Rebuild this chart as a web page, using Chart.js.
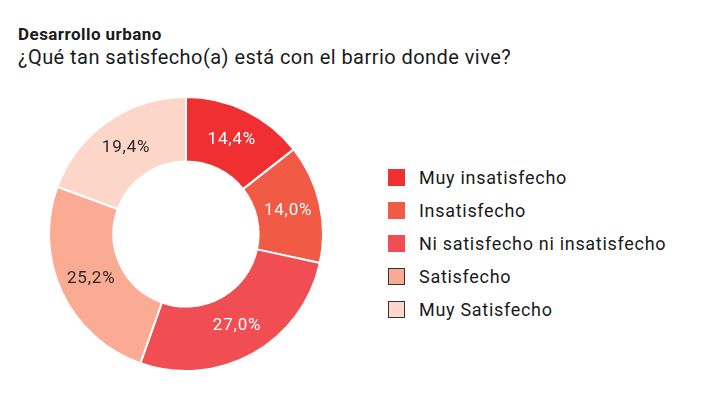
<!DOCTYPE html>
<html><head><meta charset="utf-8">
<script src="https://cdn.jsdelivr.net/npm/chart.js@4"></script>
<style>
body{margin:0;width:720px;height:405px;background:#fff;font-family:Roboto,"Noto Sans",sans-serif;color:#1a1a1a;position:relative;overflow:hidden}
#t1{position:absolute;left:18px;top:24px;font-size:17px;font-weight:700;letter-spacing:0.45px}
#t2{position:absolute;left:18px;top:45px;font-size:20px;letter-spacing:0.45px}
#cw{position:absolute;left:48px;top:96px;width:276px;height:276px}
#lg{position:absolute;left:388px;top:161px}
.it{display:flex;align-items:center;height:33px;font-size:18px;letter-spacing:0.7px}
.bx{width:17px;height:17px;box-sizing:border-box;margin-right:14px}
</style></head><body>
<div id="t1">Desarrollo urbano</div>
<div id="t2">¿Qué tan satisfecho(a) está con el barrio donde vive?</div>
<div id="cw"><canvas id="c"></canvas></div>
<div id="lg"></div>
<script>
const categories=["Muy insatisfecho","Insatisfecho","Ni satisfecho ni insatisfecho","Satisfecho","Muy Satisfecho"];
const values=[14.4,14.0,27.0,25.2,19.4];
const colors=["#EF2F31","#F15A44","#F04E53","#FBAA93","#FDD6CA"];
const labelColors=["#fff","#fff","#fff","#2a2a2a","#2a2a2a"];
const boxBorders=["none","none","none","1px solid #333","1px solid #333"];

const lg=document.getElementById('lg');
categories.forEach((c,i)=>{const d=document.createElement('div');d.className='it';
d.innerHTML='<div class="bx" style="background:'+colors[i]+';border:'+boxBorders[i]+'"></div><span>'+c+'</span>';lg.appendChild(d);});

const pctPlugin={id:'pct',afterDatasetsDraw(chart){const ctx=chart.ctx;const meta=chart.getDatasetMeta(0);
ctx.save();ctx.font='17px Roboto, sans-serif';ctx.letterSpacing='0.8px';ctx.textAlign='center';ctx.textBaseline='middle';
meta.data.forEach((arc,i)=>{const p=arc.tooltipPosition();ctx.fillStyle=labelColors[i];
ctx.fillText(values[i].toFixed(1).replace('.',',')+'%',p.x,p.y);});ctx.restore();}};

new Chart(document.getElementById('c'),{type:'doughnut',
data:{labels:categories,datasets:[{data:values,backgroundColor:colors,borderColor:'#fff',borderWidth:2}]},
options:{responsive:true,maintainAspectRatio:false,animation:false,cutout:'53%',
plugins:{legend:{display:false},tooltip:{enabled:false}},layout:{padding:0}},
plugins:[pctPlugin]});
</script></body></html>
